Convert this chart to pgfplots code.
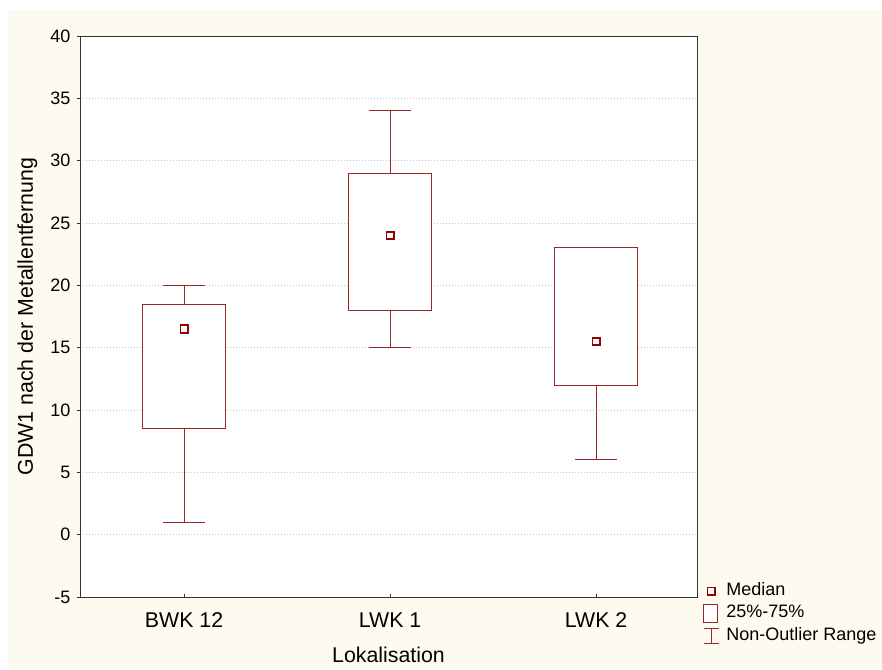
\documentclass[border=0pt]{standalone}
\usepackage{pgfplots}
\pgfplotsset{compat=1.18}
\usepackage{fontspec}
\setmainfont{Liberation Sans}
\definecolor{cream}{RGB}{253,251,240}
\definecolor{boxred}{RGB}{150,40,40}
\definecolor{medred}{RGB}{150,0,0}
\begin{document}
\begin{tikzpicture}
\fill[white] (0pt,0pt) rectangle (661.5pt,-501.75pt);
\fill[cream] (6pt,-7.5pt) rectangle (661.5pt,-501.75pt);
\begin{axis}[
  at={(60pt,-447.75pt)}, anchor=south west,
  scale only axis, width=462.75pt, height=420.75pt,
  axis background/.style={fill=white},
  axis line style={black!80, line width=0.75pt},
  xmin=-0.505, xmax=2.49, ymin=-5, ymax=40,
  xtick={0,1,2}, xticklabels={BWK 12, LWK 1, LWK 2},
  ytick={-5,0,5,10,15,20,25,30,35,40},
  xtick pos=bottom, ytick pos=left,
  tick align=inside, major tick length=2.5pt,
  tick style={black!80, line width=0.75pt},
  ytick style={xshift=-2.5pt},
  ymajorgrids,
  major grid style={gray!45, line width=0.75pt, dash pattern=on 0.75pt off 1.5pt},
  /pgf/number format/assume math mode=true,
  yticklabel style={font=\fontsize{13.5}{16}\selectfont, anchor=east, inner sep=0pt, xshift=-7pt},
  xticklabel style={font=\fontsize{16}{19}\selectfont, anchor=base, inner sep=0pt, yshift=-22.5pt},
  xlabel={Lokalisation},
  ylabel={GDW1 nach der Metallentfernung},
  xlabel style={font=\fontsize{16}{19}\selectfont, at={(axis description cs:0.5,-0.1176)}, anchor=base, inner sep=0pt},
  ylabel style={font=\fontsize{16}{19}\selectfont, at={(axis description cs:-0.0762,0.5)}, anchor=base, inner sep=0pt},
  legend style={at={(axis description cs:1.01,0.027)}, anchor=north west, draw=none, fill=none, inner sep=0pt,
    row sep=2.6pt, column sep=5pt,
    nodes={inner sep=0.5pt, font=\fontsize{13.5}{15}\selectfont, text height=9.5pt, text depth=3pt}},
  legend cell align=left,
  clip=false,
]
% whiskers (lower whisker to lower quartile, upper quartile to upper whisker) and caps
\addplot[forget plot, boxred, line width=0.75pt, unbounded coords=jump] coordinates {
  (0,1) (0,8.5) (nan,nan) (-0.1,1) (0.1,1) (nan,nan)
  (0,18.5) (0,20) (nan,nan) (-0.1,20) (0.1,20) (nan,nan)
  (1,15) (1,18) (nan,nan) (0.9,15) (1.1,15) (nan,nan)
  (1,29) (1,34) (nan,nan) (0.9,34) (1.1,34) (nan,nan)
  (2,6) (2,12) (nan,nan) (1.9,6) (2.1,6) (nan,nan)
  (1.9,23) (2.1,23)
};
% boxes (25%-75%)
\addplot[forget plot, draw=boxred, fill=white, line width=0.75pt] coordinates {(-0.2,8.5) (0.2,8.5) (0.2,18.5) (-0.2,18.5)} -- cycle;
\addplot[forget plot, draw=boxred, fill=white, line width=0.75pt] coordinates {(0.8,18) (1.2,18) (1.2,29) (0.8,29)} -- cycle;
\addplot[forget plot, draw=boxred, fill=white, line width=0.75pt] coordinates {(1.8,12) (2.2,12) (2.2,23) (1.8,23)} -- cycle;
% medians
\addplot[forget plot, only marks, mark=square*, mark size=2.8pt,
  mark options={draw=medred, fill=white, line width=1.2pt, solid}]
  coordinates {(0,16.5) (1,24) (2,15.5)};
\addlegendimage{legend image code/.code={\draw[medred, line width=1.2pt, fill=white] (2.7pt,-2.8pt) rectangle (8.3pt,2.8pt);}}
\addlegendentry{Median}
\addlegendimage{legend image code/.code={\draw[boxred, line width=0.75pt, fill=white] (0pt,-7pt) rectangle (10.5pt,7pt);}}
\addlegendentry{25\%-75\%}
\addlegendimage{legend image code/.code={\draw[boxred, line width=0.75pt] (0pt,-5.5pt) -- (11pt,-5.5pt) (5.5pt,-5.5pt) -- (5.5pt,5.5pt) (0pt,5.5pt) -- (11pt,5.5pt);}}
\addlegendentry{Non-Outlier Range}
\end{axis}
\pgfresetboundingbox
\useasboundingbox (0pt,0pt) rectangle (661.5pt,-501.75pt);
\end{tikzpicture}
\end{document}
